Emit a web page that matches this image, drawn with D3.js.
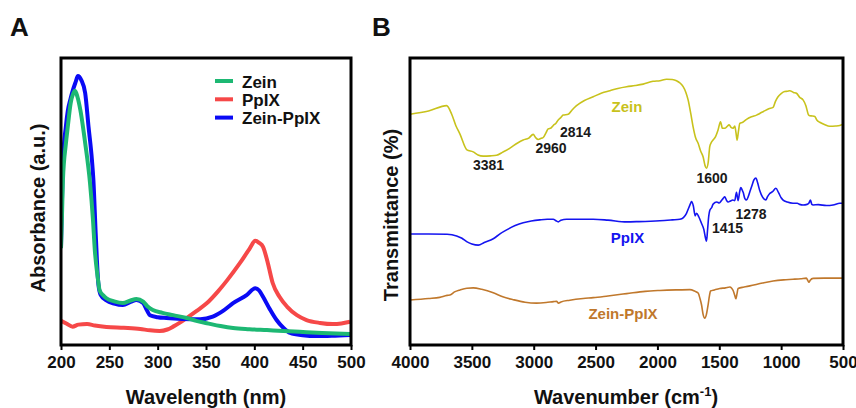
<!DOCTYPE html>
<html><head><meta charset="utf-8">
<script src="https://cdn.jsdelivr.net/npm/d3@7"></script>
<style>
body{margin:0;background:#fff;}
svg{display:block;font-family:Arial,"Liberation Sans",sans-serif;}
</style></head><body>
<svg id="c" width="856" height="408"></svg>
<script>
// ---------- Panel A: UV-Vis absorbance (a.u.) ----------
const uvTicks = [200, 250, 300, 350, 400, 450, 500];
const uvZein = [[200,0.337],[201,0.45],[202,0.575],[205,0.70],[207,0.76],[210,0.843],[212.5,0.875],[214.5,0.886],[217,0.865],[220,0.819],[225,0.704],[230,0.565],[233,0.44],[235,0.33],[238,0.235],[240,0.19],[244,0.172],[247,0.163],[255,0.152],[264,0.146],[272,0.155],[278,0.16],[285,0.151],[290,0.133],[295,0.122],[305,0.112],[316,0.104],[330,0.094],[340,0.084],[351,0.076],[365,0.066],[378,0.059],[395,0.055],[413,0.052],[430,0.049],[447,0.046],[470,0.042],[499,0.038]];
const uvPpIX = [[200,0.085],[206,0.074],[212,0.064],[218,0.071],[227,0.073],[235,0.068],[247,0.063],[265,0.060],[282,0.056],[292,0.051],[302,0.049],[310,0.054],[316,0.064],[323,0.078],[330,0.094],[340,0.118],[351,0.146],[362,0.185],[372,0.226],[385,0.285],[395,0.335],[401,0.363],[405,0.356],[409,0.342],[414,0.285],[419,0.216],[426,0.168],[434,0.133],[444,0.104],[454,0.087],[468,0.077],[481,0.073],[490,0.075],[499,0.081]];
const uvComplex = [[200,0.34],[201,0.50],[202,0.64],[205,0.76],[207,0.815],[210,0.86],[212,0.885],[215,0.915],[217.5,0.937],[221,0.923],[225,0.878],[228.5,0.76],[232,0.645],[233.5,0.575],[236,0.38],[238.6,0.215],[241,0.175],[247,0.155],[255,0.144],[264,0.139],[272,0.150],[278,0.157],[285,0.146],[289,0.12],[292,0.104],[300,0.097],[309,0.094],[325,0.091],[344,0.09],[357,0.099],[368,0.12],[378,0.146],[392,0.174],[401,0.198],[405,0.19],[409,0.168],[416,0.125],[423,0.087],[430,0.06],[437,0.042],[450,0.034],[465,0.031],[480,0.032],[499,0.035]];
const uvNames = ["Zein", "PpIX", "Zein-PpIX"];
const uvColors = ["#1db873", "#f64848", "#0a0af5"];

// ---------- Panel B: FTIR transmittance (%) ----------
const irTicks = [4000, 3500, 3000, 2500, 2000, 1500, 1000, 500];
const irZein = [[4000,80.4],[3850,81.5],[3704,83.4],[3663,80.4],[3630,76.5],[3596,73.5],[3540,68],[3489,67.3],[3450,66.2],[3408,65.8],[3350,65.9],[3300,66.1],[3250,67.2],[3192,68.6],[3130,70.4],[3085,71.4],[3040,72.1],[3004,73.4],[2985,72.3],[2964,71.6],[2940,72.0],[2923,72.3],[2900,74.0],[2883,75.3],[2860,75.6],[2842,76.5],[2820,77.3],[2802,78.4],[2780,79.3],[2762,80.1],[2721,80.4],[2690,81.9],[2654,83.4],[2590,85.2],[2519,86.5],[2450,87.8],[2384,88.6],[2320,89.4],[2249,90.0],[2180,90.4],[2115,90.9],[2035,91.9],[1980,92.1],[1926,92.6],[1880,92.5],[1846,92.1],[1815,91.2],[1792,90.0],[1770,88.0],[1752,85.4],[1730,80.5],[1712,76.1],[1690,72.0],[1671,70.3],[1650,67.5],[1631,65.6],[1615,62.5],[1603,61.6],[1590,63.5],[1577,69.1],[1565,70.5],[1550,71.4],[1530,72.6],[1510,74.9],[1490,77.8],[1475,75.5],[1455,75.5],[1440,76.0],[1420,76.7],[1405,75.8],[1388,75.5],[1375,76.3],[1365,74.0],[1356,71.4],[1345,74.5],[1334,77.2],[1310,77.6],[1280,78.6],[1240,79.5],[1199,80.1],[1180,80.5],[1160,81.0],[1146,81.3],[1100,82.3],[1065,82.8],[1045,85.0],[1025,86.5],[1000,87.6],[971,88.3],[950,88.4],[930,88.6],[900,88.0],[876,87.7],[850,86.3],[823,85.4],[800,83.4],[780,80.3],[769,79.9],[750,79.8],[728,79.6],[710,78.3],[688,77.6],[650,76.8],[607,76.2],[560,76.3],[526,76.5],[500,76.9]];
const irPpIX = [[4000,38.7],[3850,38.7],[3700,38.6],[3623,38.0],[3580,37.2],[3542,36.0],[3500,35.2],[3448,34.8],[3400,35.7],[3327,37.0],[3270,38.8],[3219,40.1],[3150,41.6],[3085,42.6],[3020,43.2],[2950,43.6],[2890,43.8],[2842,43.8],[2820,43.3],[2802,42.9],[2780,43.5],[2734,43.8],[2650,43.8],[2519,43.8],[2400,43.5],[2249,42.9],[2150,43.0],[1980,43.3],[1880,43.6],[1819,43.8],[1790,44.4],[1765,45.9],[1745,48.0],[1730,49.5],[1724,50.0],[1710,48.5],[1695,45.0],[1684,45.9],[1665,44.6],[1644,42.4],[1625,40.3],[1610,37.0],[1603,36.2],[1595,40.0],[1585,45.0],[1577,46.9],[1560,48.0],[1550,49.1],[1520,49.8],[1500,49.5],[1483,50.3],[1470,51.0],[1455,51.6],[1440,50.3],[1428,49.8],[1410,50.2],[1390,50.5],[1375,50.3],[1361,53.2],[1348,50.3],[1335,53.5],[1326,54.9],[1315,54.0],[1307,53.2],[1293,51.0],[1280,50.5],[1265,51.8],[1253,53.4],[1235,55.7],[1220,57.5],[1204,58.2],[1190,56.5],[1173,53.8],[1150,51.5],[1124,50.5],[1110,51.7],[1092,52.8],[1070,53.4],[1043,54.6],[1020,53.0],[1000,51.3],[984,50.5],[950,49.8],[904,49.4],[870,49.4],[850,49.0],[823,48.8],[790,49.0],[775,49.5],[763,50.5],[752,49.0],[742,48.8],[700,48.9],[634,48.6],[580,48.8],[526,49.4],[505,49.4]];
const irComplex = [[4000,15.7],[3850,16.2],[3760,16.6],[3700,17.3],[3677,17.4],[3640,18.5],[3596,19.2],[3540,19.8],[3489,19.9],[3420,19.4],[3327,18.2],[3250,16.8],[3166,15.8],[3070,14.9],[2977,14.6],[2900,14.8],[2840,15.1],[2815,15.2],[2800,14.6],[2780,15.0],[2708,15.6],[2600,16.2],[2519,16.5],[2400,17.1],[2249,17.9],[2100,18.7],[1980,19.0],[1850,19.2],[1738,19.3],[1700,18.8],[1671,18.1],[1655,16.0],[1644,14.1],[1630,10.5],[1617,9.3],[1605,10.5],[1590,14.1],[1580,17.0],[1571,18.8],[1540,19.2],[1496,19.7],[1450,19.9],[1415,20.2],[1400,19.8],[1388,19.0],[1375,17.3],[1366,16.1],[1357,17.8],[1348,19.7],[1300,20.2],[1253,20.6],[1150,21.6],[1065,22.3],[980,22.7],[904,22.9],[840,23.1],[796,23.3],[785,22.5],[775,21.9],[765,22.6],[742,23.2],[650,23.3],[560,23.3],[500,23.3]];
const irNames = ["Zein", "PpIX", "Zein-PpIX"];
const irColors = ["#c8c21c", "#1414f0", "#c0782c"];
const irPeaks = [3381, 2960, 2814, 1600, 1415, 1278];

// ---------- layout ----------
const svg = d3.select("#c");
const A = {l: 61, r: 351, t: 58, b: 345};
const B = {l: 410, r: 843, t: 58, b: 345};

function frame(p, x, ticks) {
  const g = svg.append("g");
  g.append("g").attr("transform", `translate(0,${p.b})`)
    .call(d3.axisBottom(x).tickValues(ticks).tickFormat(d3.format("d")).tickSize(5).tickSizeOuter(0).tickPadding(6))
    .call(a => a.select(".domain").remove())
    .call(a => a.selectAll(".tick line").attr("stroke", "#000").attr("stroke-width", 2))
    .call(a => a.selectAll(".tick text").attr("fill", "#111").attr("font-size", 17)
      .attr("font-weight", "bold").attr("font-family", "Arial, 'Liberation Sans', sans-serif"));
  g.append("rect").attr("x", p.l).attr("y", p.t).attr("width", p.r - p.l).attr("height", p.b - p.t)
    .attr("fill", "none").attr("stroke", "#000").attr("stroke-width", 3);
}

// Panel A
const xA = d3.scaleLinear().domain([200, 500]).range([A.l, A.r]);
const yA = d3.scaleLinear().domain([0, 1]).range([A.b, A.t]);
const lineA = d3.line().x(d => xA(d[0])).y(d => yA(d[1])).curve(d3.curveMonotoneX);
svg.append("clipPath").attr("id", "clipA").append("rect")
  .attr("x", A.l).attr("y", A.t).attr("width", A.r - A.l).attr("height", A.b - A.t);
const gA = svg.append("g").attr("clip-path", "url(#clipA)");
[[uvPpIX, 1], [uvComplex, 2], [uvZein, 0]].forEach(([s, ci]) => {
  gA.append("path").datum(s).attr("d", lineA).attr("fill", "none")
    .attr("stroke", uvColors[ci]).attr("stroke-width", 4).attr("stroke-linejoin", "round");
});
frame(A, xA, uvTicks);

// legend
const leg = svg.append("g");
uvNames.forEach((n, i) => {
  const y = 81 + i * 18.3;
  leg.append("line").attr("x1", 215).attr("x2", 233).attr("y1", y).attr("y2", y)
    .attr("stroke", uvColors[i]).attr("stroke-width", 4);
  leg.append("text").attr("x", 242).attr("y", y + 6.5).text(n)
    .attr("font-size", 17).attr("font-weight", "bold").attr("fill", "#111");
});

// Panel B
const xB = d3.scaleLinear().domain([4000, 500]).range([B.l, B.r]);
const yB = d3.scaleLinear().domain([0, 100]).range([B.b, B.t]);
const lineB = d3.line().x(d => xB(d[0])).y(d => yB(d[1])).curve(d3.curveMonotoneX);
[irZein, irPpIX, irComplex].forEach((s, i) => {
  svg.append("path").datum(s).attr("d", lineB).attr("fill", "none")
    .attr("stroke", irColors[i]).attr("stroke-width", 1.6).attr("stroke-linejoin", "round");
});
frame(B, xB, irTicks);

// series labels
const labPos = [[627, 111.5], [627.5, 242.5], [623, 318.5]];
irNames.forEach((n, i) => {
  svg.append("text").attr("x", labPos[i][0]).attr("y", labPos[i][1]).attr("text-anchor", "middle")
    .text(n).attr("font-size", 15).attr("font-weight", "bold").attr("fill", irColors[i]);
});
// peak annotations
const peakPos = [[488.5, 170], [551, 153], [575.5, 136.5], [712, 183], [727.5, 232.5], [751, 218.5]];
irPeaks.forEach((p, i) => {
  svg.append("text").attr("x", peakPos[i][0]).attr("y", peakPos[i][1]).attr("text-anchor", "middle")
    .text(p).attr("font-size", 14).attr("font-weight", "bold").attr("fill", "#1a1a1a");
});

// titles
const tstyle = s => s.attr("font-weight", "bold").attr("fill", "#111");
tstyle(svg.append("text").attr("x", 206).attr("y", 404).attr("text-anchor", "middle")
  .attr("font-size", 20).text("Wavelength (nm)"));
tstyle(svg.append("text").attr("transform", "translate(45,208) rotate(-90)").attr("text-anchor", "middle")
  .attr("font-size", 20).text("Absorbance (a.u.)"));
const wt = tstyle(svg.append("text").attr("x", 626).attr("y", 404).attr("text-anchor", "middle").attr("font-size", 20));
wt.append("tspan").text("Wavenumber (cm");
wt.append("tspan").attr("font-size", 13).attr("dy", -8).text("-1");
wt.append("tspan").attr("dy", 8).text(")");
tstyle(svg.append("text").attr("transform", "translate(398,215) rotate(-90)").attr("text-anchor", "middle")
  .attr("font-size", 20).text("Transmittance (%)"));
tstyle(svg.append("text").attr("x", 10).attr("y", 36).attr("font-size", 26).text("A"));
tstyle(svg.append("text").attr("x", 372).attr("y", 36).attr("font-size", 26).text("B"));
</script></body></html>
